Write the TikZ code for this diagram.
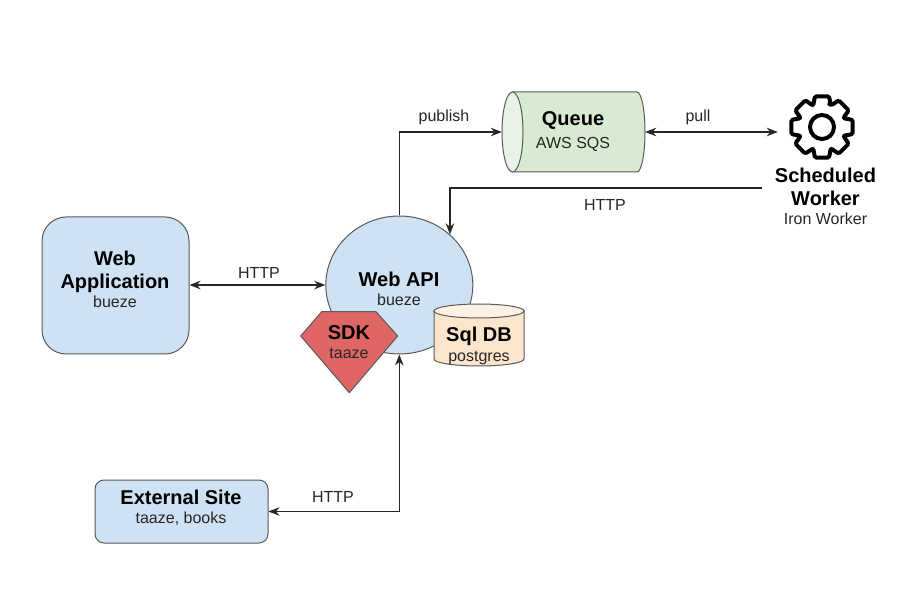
\documentclass[tikz,border=0pt]{standalone}
\usepackage{fontspec}
\setmainfont{Liberation Sans}
\usetikzlibrary{arrows.meta,shapes.geometric}
\definecolor{blueA}{HTML}{CFE2F3}
\definecolor{greenA}{HTML}{D9EAD3}
\definecolor{greenB}{HTML}{E8F2E5}
\definecolor{orangeA}{HTML}{FCE5CD}
\definecolor{orangeB}{HTML}{FDF0E4}
\definecolor{redA}{HTML}{E06666}
\definecolor{edgeC}{HTML}{595959}
\newcommand{\ttl}[1]{{\fontsize{20}{23}\selectfont\bfseries #1}}
\newcommand{\sbt}[1]{{\fontsize{16}{18}\selectfont\color{black!85} #1}}
\tikzset{
  x=1pt,y=-1pt,
  shapeline/.style={draw=edgeC,line width=1pt},
  txt/.style={align=center,inner sep=0pt,text=black,font=\fontsize{19.5}{23}\selectfont},
  conn/.style={line width=1.5pt,draw=black!85,-{Stealth[length=11pt,width=8.5pt]}},
  conn2/.style={line width=1.5pt,draw=black!85,{Stealth[length=11pt,width=8.5pt]}-{Stealth[length=11pt,width=8.5pt]}},
  lbl/.style={inner sep=0pt,text=black!85,font=\fontsize{16}{18}\selectfont},
}
\begin{document}
\begin{tikzpicture}
\useasboundingbox (0,0) rectangle (921,609);
% shapes
\node[shapeline,fill=blueA,rounded corners=24pt,minimum width=147pt,minimum height=137pt,inner sep=0pt] (webapp) at (115.5,285.5) {};
\node[txt] (webapptext) at (115,279.5) {\ttl{Web}\\[0pt]\ttl{Application}\\[-4pt]\sbt{bueze}};
\node[shapeline,fill=blueA,rounded corners=9pt,minimum width=173pt,minimum height=63pt,inner sep=0pt] (external) at (181.5,511.5) {};
\node[txt] (externaltext) at (181,508) {\ttl{External Site}\\[-4pt]\sbt{taaze, books}};
\node[shapeline,ellipse,fill=blueA,minimum width=147pt,minimum height=138pt,inner sep=0pt] (webapi) at (399.3,285) {};
\node[txt] (webapitext) at (399,289) {\ttl{Web API}\\[-3.5pt]\sbt{bueze}};
% queue cylinder
\node[minimum width=143pt,minimum height=80pt,inner sep=0pt] (queue) at (573.5,132) {};
\draw[shapeline,fill=greenA] (512.5,92) -- (637,92) arc[start angle=90,end angle=-90,x radius=8pt,y radius=40pt] -- (512.5,172) -- cycle;
\draw[shapeline,fill=greenB] (512.5,132) ellipse[x radius=10.5pt,y radius=40pt];
\node[txt] (queuetext) at (573,132) {\ttl{Queue}\\[0pt]\sbt{AWS SQS}};
% database cylinder
\draw[shapeline,fill=orangeA] (434,311) -- (434,359) arc[start angle=180,end angle=360,x radius=45pt,y radius=7pt] -- (524,311) -- cycle;
\draw[shapeline,fill=orangeB] (479,311) ellipse[x radius=45pt,y radius=7pt];
\node[txt] (dbtext) at (479,346) {\ttl{Sql DB}\\[-3pt]\sbt{postgres}};
\draw[shapeline,fill=redA,line join=round] (300.7,336) -- (321.7,311.7) -- (376,311.7) -- (397.7,336) -- (349.3,392.7) -- cycle;
\node[txt] (sdktext) at (349,342) {\ttl{SDK}\\[-4pt]\sbt{taaze}};
% gear
\node[circle,minimum size=88pt,inner sep=0pt] (gear) at (822,127) {};
\begin{scope}[shift={(gear.center)}]
\draw[line width=4pt,draw=black,line join=round,rounded corners=1.5pt]
  (71:24pt) \foreach \a in {90,135,...,405} { -- (\a-21:24pt) -- (\a-13:31.5pt) -- (\a+13:31.5pt) -- (\a+21:24pt) } -- cycle;
\end{scope}
\node[circle,draw=black,line width=4pt,minimum size=24pt,inner sep=0pt] (gearhub) at (gear.center) {};
\node[txt] (worker) at (825.5,196.5) {\ttl{Scheduled}\\[0pt]\ttl{Worker}\\[-4pt]\sbt{Iron Worker}};
% connectors
\coordinate (httpstart) at (762,188);
\draw[conn2] (webapp.east |- webapi.west) -- (webapi.west);
\draw[conn] (webapi.north) |- (queue.west);
\draw[conn2] (queue.east) -- (queue.east -| gear.west);
\draw[conn] (httpstart) -| (webapi.45);
\draw[conn2] (external.east) -| (webapi.south);
% labels
\node[lbl] (l1) at (259,273) {HTTP};
\node[lbl] (l2) at (444,117) {publish};
\node[lbl] (l3) at (698,117) {pull};
\node[lbl] (l4) at (605,205) {HTTP};
\node[lbl] (l5) at (333,497) {HTTP};
\end{tikzpicture}
\end{document}
